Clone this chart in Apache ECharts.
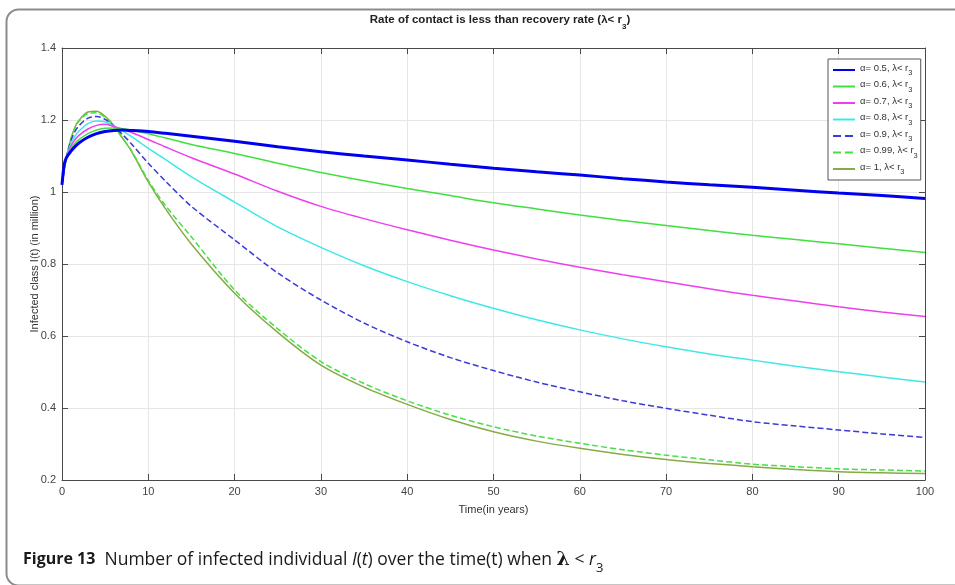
<!DOCTYPE html>
<html>
<head>
<meta charset="utf-8">
<script src="https://cdn.jsdelivr.net/npm/echarts@6/dist/echarts.min.js"></script>
<style>
html,body{margin:0;padding:0;background:#fff;}
#chart{width:955px;height:585px;}
</style>
</head>
<body>
<div id="chart"></div>
<script>
// Time points (years)
const time = [0,0.25,0.5,1,1.5,2,3,4,5,6,7,8,10,12,15,20,25,30,35,40,45,50,55,60,65,70,75,80,85,90,95,100];

// Infected class I(t) (in million) for each fractional order alpha
const alpha05 = [1.02,1.075,1.095,1.112,1.126,1.137,1.152,1.162,1.168,1.171,1.172,1.171,1.168,1.163,1.155,1.141,1.126,1.112,1.100,1.089,1.077,1.066,1.056,1.047,1.037,1.028,1.020,1.013,1.005,0.997,0.990,0.982];
const alpha06 = [1.02,1.072,1.095,1.118,1.135,1.146,1.162,1.172,1.177,1.178,1.176,1.172,1.162,1.150,1.132,1.107,1.080,1.054,1.031,1.010,0.990,0.970,0.953,0.936,0.921,0.907,0.893,0.880,0.868,0.856,0.844,0.832];
const alpha07 = [1.02,1.070,1.095,1.125,1.145,1.158,1.175,1.185,1.188,1.182,1.175,1.166,1.146,1.125,1.095,1.050,1.002,0.960,0.926,0.895,0.866,0.839,0.814,0.791,0.770,0.751,0.731,0.713,0.697,0.681,0.667,0.654];
const alpha08 = [1.02,1.065,1.093,1.132,1.155,1.170,1.190,1.197,1.195,1.183,1.170,1.155,1.121,1.090,1.042,0.972,0.903,0.846,0.795,0.751,0.712,0.677,0.645,0.617,0.592,0.570,0.550,0.533,0.516,0.501,0.486,0.472];
const alpha09 = [1.02,1.060,1.093,1.140,1.168,1.185,1.205,1.210,1.202,1.183,1.160,1.135,1.080,1.030,0.960,0.867,0.775,0.700,0.636,0.584,0.540,0.504,0.472,0.445,0.420,0.399,0.380,0.362,0.350,0.339,0.328,0.318];
const alpha099 = [1.02,1.060,1.095,1.145,1.178,1.198,1.218,1.220,1.207,1.183,1.150,1.117,1.032,0.962,0.875,0.728,0.620,0.529,0.468,0.420,0.380,0.348,0.322,0.302,0.284,0.269,0.256,0.244,0.237,0.231,0.228,0.225];
const alpha1 = [1.02,1.060,1.095,1.145,1.180,1.200,1.222,1.224,1.210,1.185,1.150,1.115,1.028,0.953,0.855,0.719,0.610,0.519,0.458,0.410,0.368,0.334,0.308,0.288,0.271,0.257,0.246,0.237,0.229,0.223,0.220,0.218];

const legendNames = ['α= 0.5, λ< r','α= 0.6, λ< r','α= 0.7, λ< r','α= 0.8, λ< r','α= 0.9, λ< r','α= 0.99, λ< r','α= 1, λ< r'];
const xTicks = [0,10,20,30,40,50,60,70,80,90,100];
const yTicks = [0.2,0.4,0.6,0.8,1.0,1.2,1.4];

const seriesValues = [alpha05,alpha06,alpha07,alpha08,alpha09,alpha099,alpha1];
const colors = ['#0000f0','#3fe03f','#ee3fee','#3fe8e8','#3a3ad8','#44e044','#86ab45'];
const widths = [3,1.5,1.5,1.5,1.5,1.5,1.5];
const types = ['solid','solid','solid','solid','dashed','dashed','solid'];

const font = "'Liberation Sans', Arial, sans-serif";
const axisColor = '#4a4a4a';

const chart = echarts.init(document.getElementById('chart'), null, {renderer:'canvas'});

const series = seriesValues.map((vals, i) => ({
  name: legendNames[i],
  type: 'line',
  data: time.map((t, k) => [t, vals[k]]),
  smooth: 0.3,
  symbol: 'none',
  showSymbol: false,
  itemStyle: {color: colors[i]},
  lineStyle: {color: colors[i], width: widths[i], type: types[i]},
  z: 10 - i,
  animation: false
}));

const option = {
  animation: false,
  backgroundColor: '#fff',
  title: {
    text: '{t|Rate of contact is less than recovery rate (λ< r}{s|3}{t|)}',
    left: 495, top: 9, textAlign: 'center',
    textStyle: {
      rich: {
        t: {fontFamily: "'Liberation Sans Narrow', " + font, fontWeight: 'bold', fontSize: 11.5, color: '#222', lineHeight: 13, verticalAlign: 'top'},
        s: {fontFamily: "'Liberation Sans Narrow', " + font, fontWeight: 'bold', fontSize: 8, color: '#222', lineHeight: 17, verticalAlign: 'bottom'}
      }
    }
  },
  grid: {left: 62, right: 30, top: 48, bottom: 105, containLabel: false},
  legend: {
    orient: 'vertical',
    left: 828, top: 59,
    padding: [4, 3, 4, 4],
    itemWidth: 22, itemHeight: 10, itemGap: 2.5,
    borderColor: '#555', borderWidth: 1,
    backgroundColor: '#fff',
    itemStyle: {opacity: 0},
    data: legendNames,
    formatter: n => '{a|' + n + '}{s|3}',
    textStyle: {
      rich: {
        a: {fontFamily: font, fontSize: 9.5, color: '#333', lineHeight: 11, verticalAlign: 'top'},
        s: {fontFamily: font, fontSize: 7.5, color: '#333', lineHeight: 14, verticalAlign: 'bottom'}
      }
    }
  },
  xAxis: [{
    type: 'value', min: 0, max: 100, interval: 10,
    name: 'Time(in years)', nameLocation: 'middle', nameGap: 24,
    nameTextStyle: {fontFamily: font, fontSize: 11, color: '#333'},
    axisLine: {show: true, lineStyle: {color: axisColor}},
    axisTick: {show: true, inside: true, length: 6, lineStyle: {color: axisColor}},
    axisLabel: {fontFamily: font, fontSize: 11, color: '#444', margin: 6},
    splitLine: {show: true, lineStyle: {color: '#e6e6e6'}}
  }, {
    type: 'value', min: 0, max: 100, interval: 10, position: 'top',
    axisLine: {show: true, onZero: false, lineStyle: {color: axisColor}},
    axisTick: {show: true, inside: true, length: 6, lineStyle: {color: axisColor}},
    axisLabel: {show: false},
    splitLine: {show: false}
  }],
  yAxis: [{
    type: 'value', min: 0.2, max: 1.4, interval: 0.2,
    name: 'Infected class I(t) (in million)', nameLocation: 'middle', nameGap: 22,
    nameMoveOverlap: false,
    nameTextStyle: {fontFamily: font, fontSize: 11, color: '#333'},
    axisLine: {show: true, lineStyle: {color: axisColor}},
    axisTick: {show: true, inside: true, length: 6, lineStyle: {color: axisColor}},
    axisLabel: {fontFamily: font, fontSize: 11, color: '#444', margin: 6,
      formatter: v => String(Math.round(v * 10) / 10)},
    splitLine: {show: true, lineStyle: {color: '#e6e6e6'}}
  }, {
    type: 'value', min: 0.2, max: 1.4, interval: 0.2, position: 'right',
    axisLine: {show: true, onZero: false, lineStyle: {color: axisColor}},
    axisTick: {show: true, inside: true, length: 6, lineStyle: {color: axisColor}},
    axisLabel: {show: false},
    splitLine: {show: false}
  }],
  series: series,
  graphic: [
    {
      type: 'rect', left: 4, top: 7, silent: true,
      shape: {x: 0, y: 0, width: 1000, height: 576, r: 12},
      style: {fill: 'none', stroke: '#8c8c8c', lineWidth: 2}
    },
    {
      type: 'text', left: 23, top: 551, silent: true,
      style: {
        text: '{b|Figure 13}{n|  Number of infected individual }{i|I}{n|(}{i|t}{n|) over the time(t) when }{l|λ}{n| < }{i|r}{s|3}',
        rich: {
          b: {fontFamily: "'Open Sans', 'Noto Sans', sans-serif", fontWeight: 'bold', fontSize: 16, fill: '#1a1a1a', lineHeight: 22, verticalAlign: 'top'},
          n: {fontFamily: "'Open Sans', 'Noto Sans', sans-serif", fontSize: 17.5, fill: '#1a1a1a', lineHeight: 22, verticalAlign: 'top'},
          i: {fontFamily: "'Open Sans', 'Noto Sans', sans-serif", fontStyle: 'italic', fontSize: 17.5, fill: '#1a1a1a', lineHeight: 22, verticalAlign: 'top'},
          l: {fontFamily: "'DejaVu Serif', serif", fontWeight: 'bold', fontSize: 19, fill: '#1a1a1a', lineHeight: 22, verticalAlign: 'top'},
          s: {fontFamily: "'Open Sans', 'Noto Sans', sans-serif", fontSize: 13, fill: '#1a1a1a', lineHeight: 24, verticalAlign: 'bottom'}
        }
      }
    }
  ]
};
chart.setOption(option);
</script>
</body>
</html>
